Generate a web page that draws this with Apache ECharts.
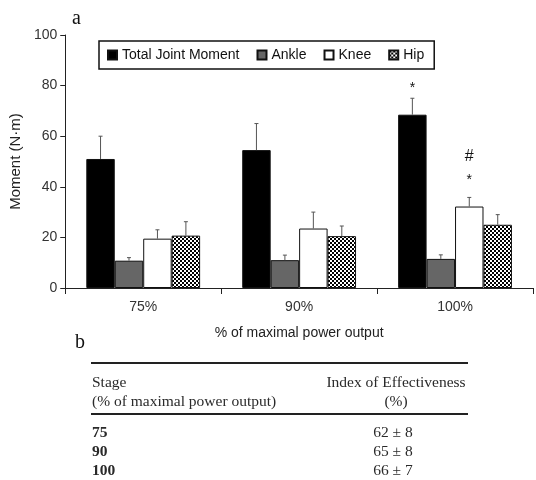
<!DOCTYPE html>
<html>
<head>
<meta charset="utf-8">
<script src="https://cdn.jsdelivr.net/npm/echarts@6/dist/echarts.min.js"></script>
<style>
html,body{margin:0;padding:0;background:#fff;}
#chart{width:536px;height:480px;}
</style>
</head>
<body>
<div id="chart"></div>
<script>
// ---- data ----
var categories = ['75%', '90%', '100%'];
var seriesNames = ['Total Joint Moment', 'Ankle', 'Knee', 'Hip'];
var totalValues = [51, 54.5, 68.5];
var ankleValues = [10.8, 11, 11.5];
var kneeValues = [19.5, 23.5, 32.2];
var hipValues = [20.7, 20.5, 25];
var totalErr = [9, 10.5, 6.5];
var ankleErr = [1.2, 2, 1.6];
var kneeErr = [3.5, 6.5, 3.6];
var hipErr = [5.5, 4, 4];
var yTicks = [0, 20, 40, 60, 80, 100];
// annotations: [category index, series index, y value, text]
var annotations = [[2, 0, 79, '*'], [2, 2, 51.8, '#'], [2, 2, 42.7, '*']];
// table b
var tableHeader = [['Stage', '(% of maximal power output)'], ['Index of Effectiveness', '(%)']];
var tableStages = ['75', '90', '100'];
var tableIndex = ['62 \u00b1 8', '65 \u00b1 8', '66 \u00b1 7'];

// ---- chart ----
var allValues = [totalValues, ankleValues, kneeValues, hipValues];
var allErr = [totalErr, ankleErr, kneeErr, hipErr];

var pc = document.createElement('canvas');
pc.width = 4; pc.height = 4;
var pctx = pc.getContext('2d');
pctx.fillStyle = '#fff'; pctx.fillRect(0, 0, 4, 4);
pctx.fillStyle = '#000';
pctx.fillRect(0, 0, 2, 2); pctx.fillRect(2, 2, 2, 2);

var fills = ['#000000', '#666666', '#ffffff', {image: pc, repeat: 'repeat'}];
var CAT_GAP = 0.27;

var errData = [];
for (var s = 0; s < 4; s++) {
  for (var c = 0; c < categories.length; c++) {
    errData.push([c, s, allValues[s][c], allErr[s][c]]);
  }
}

function barCenterX(api, c, s, v) {
  var p = api.coord([c, v]);
  var band = api.size([1, 0])[0];
  var bw = band * (1 - CAT_GAP) / 4;
  return {x: p[0] - 2 * bw + (s + 0.5) * bw, y: p[1], bw: bw};
}

var series = [];
for (var i = 0; i < 4; i++) {
  series.push({
    name: seriesNames[i],
    type: 'bar',
    data: allValues[i],
    barGap: '0%',
    barCategoryGap: (CAT_GAP * 100) + '%',
    itemStyle: {color: fills[i], borderColor: '#111', borderWidth: 1},
    z: 2
  });
}
series.push({
  type: 'custom',
  data: errData,
  encode: {x: 0, y: 2},
  z: 3,
  silent: true,
  renderItem: function (params, api) {
    var c = api.value(0), s = api.value(1), v = api.value(2), e = api.value(3);
    var b = barCenterX(api, c, s, v);
    var top = api.coord([c, v + e])[1];
    return {
      type: 'group',
      children: [
        {type: 'line', shape: {x1: b.x, y1: b.y, x2: b.x, y2: top}, style: {stroke: '#555', lineWidth: 1}},
        {type: 'line', shape: {x1: b.x - 2, y1: top, x2: b.x + 2, y2: top}, style: {stroke: '#555', lineWidth: 1}}
      ]
    };
  }
});
series.push({
  type: 'custom',
  data: annotations,
  encode: {x: 0, y: 2},
  z: 4,
  silent: true,
  renderItem: function (params, api) {
    var c = api.value(0), s = api.value(1), v = api.value(2);
    var b = barCenterX(api, c, s, v);
    var t = annotations[params.dataIndex][3];
    return {
      type: 'text',
      x: b.x, y: b.y,
      style: {text: t, fill: '#111', font: (t === '#' ? '16px' : '14px') + ' "Liberation Sans", Arial, sans-serif', align: 'center', verticalAlign: 'middle'}
    };
  }
});

var serif = '"Liberation Serif", "Times New Roman", serif';
var tf = '15.5px ' + serif;
var tcol = '#2a2a2a';
var graphics = [
  {type: 'text', left: 72, top: 9, style: {text: 'a', font: '20px ' + serif, fill: '#111'}},
  {type: 'text', left: 75, top: 333, style: {text: 'b', font: '20px ' + serif, fill: '#111'}},
  {type: 'line', shape: {x1: 91, y1: 363, x2: 468, y2: 363}, style: {stroke: '#222', lineWidth: 2}},
  {type: 'line', shape: {x1: 91, y1: 414, x2: 468, y2: 414}, style: {stroke: '#222', lineWidth: 2}},
  {type: 'text', x: 92, y: 383, style: {text: tableHeader[0][0], font: tf, fill: tcol, verticalAlign: 'middle'}},
  {type: 'text', x: 92, y: 402, style: {text: tableHeader[0][1], font: tf, fill: tcol, verticalAlign: 'middle'}},
  {type: 'text', x: 396, y: 383, style: {text: tableHeader[1][0], font: tf, fill: tcol, align: 'center', verticalAlign: 'middle'}},
  {type: 'text', x: 396, y: 402, style: {text: tableHeader[1][1], font: tf, fill: tcol, align: 'center', verticalAlign: 'middle'}}
];
for (var r = 0; r < tableStages.length; r++) {
  graphics.push({type: 'text', x: 92, y: 433 + r * 19, style: {text: tableStages[r], font: 'bold ' + tf, fill: tcol, verticalAlign: 'middle'}});
  graphics.push({type: 'text', x: 393, y: 433 + r * 19, style: {text: tableIndex[r], font: tf, fill: tcol, align: 'center', verticalAlign: 'middle'}});
}

var sans = '"Liberation Sans", Arial, sans-serif';
var chart = echarts.init(document.getElementById('chart'), null, {renderer: 'canvas'});
chart.setOption({
  animation: false,
  backgroundColor: '#fff',
  grid: {left: 65, right: 3, top: 35, bottom: 192, containLabel: false},
  legend: {
    data: seriesNames,
    left: 99, top: 41,
    padding: [7, 10, 7, 8],
    borderColor: '#111', borderWidth: 1.5,
    itemWidth: 9, itemHeight: 9, itemGap: 17,
    icon: 'rect',
    textStyle: {fontFamily: sans, fontSize: 14, color: '#111'},
    backgroundColor: '#fff'
  },
  xAxis: {
    type: 'category',
    data: categories,
    name: '% of maximal power output',
    nameLocation: 'middle',
    nameGap: 38,
    nameTextStyle: {fontFamily: sans, fontSize: 14, color: '#222'},
    axisLine: {lineStyle: {color: '#222', width: 1}},
    axisTick: {show: true, length: 6, lineStyle: {color: '#222'}},
    axisLabel: {fontFamily: sans, fontSize: 14, color: '#333', margin: 12}
  },
  yAxis: {
    type: 'value',
    min: yTicks[0], max: yTicks[yTicks.length - 1], interval: yTicks[1] - yTicks[0],
    name: 'Moment (N\u00b7m)',
    nameLocation: 'middle',
    nameGap: 39,
    nameTextStyle: {fontFamily: sans, fontSize: 15, color: '#222'},
    axisLine: {show: true, lineStyle: {color: '#222', width: 1}},
    axisTick: {show: true, length: 5, lineStyle: {color: '#222'}},
    axisLabel: {fontFamily: sans, fontSize: 14, color: '#333', margin: 8},
    splitLine: {show: false}
  },
  series: series,
  graphic: graphics
});
</script>
</body>
</html>
